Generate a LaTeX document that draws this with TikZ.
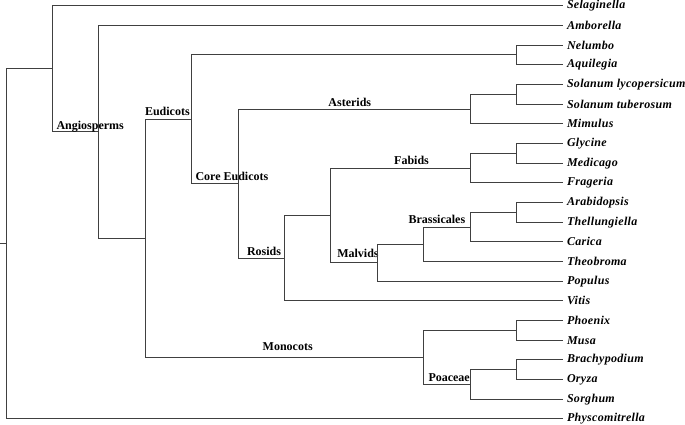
\documentclass[tikz,border=0pt]{standalone}
\usepackage{fontspec}
\setmainfont{Liberation Serif}
\newfontfamily\leaffont[LetterSpace=2.5]{Liberation Serif}
\usetikzlibrary{calc}

\tikzset{
  branch/.style={draw=black!75, line width=1pt},
  leaf/.style={anchor=west, inner xsep=4pt, inner ysep=1pt,
    font=\leaffont\fontsize{12}{14}\selectfont\bfseries\itshape},
  clade/.style={anchor=base west, inner sep=0pt,
    font=\fontsize{12}{14}\selectfont\bfseries},
}

\begin{document}
\begin{tikzpicture}[x=46.4pt, y=-19.68pt]
  \useasboundingbox (-6pt,5.7pt) rectangle (679pt,-418.3pt);

  % leaves, top to bottom
  \foreach \n/\t [count=\i from 0] in {sel/Selaginella, amb/Amborella,
      nel/Nelumbo, aqu/Aquilegia, sly/Solanum lycopersicum,
      stu/Solanum tuberosum, mim/Mimulus, gly/Glycine, med/Medicago,
      fra/Frageria, ara/Arabidopsis, the/Thellungiella, car/Carica,
      teo/Theobroma, pop/Populus, vit/Vitis, pho/Phoenix, mus/Musa,
      bra/Brachypodium, ory/Oryza, sor/Sorghum, phy/Physcomitrella}
    \node[leaf] (\n) at (12,\i) {\t};

  % internal nodes: (depth, mean of children)
  \coordinate (solanum) at (11,4.5);
  \coordinate (nelaqu)  at (11,2.5);
  \coordinate (asterid) at (10,5.25);
  \coordinate (glymed)  at (11,7.5);
  \coordinate (fabid)   at (10,8.25);
  \coordinate (arathe)  at (11,10.5);
  \coordinate (brassic) at (10,11.25);
  \coordinate (bratheo) at (9,12.125);
  \coordinate (malvid)  at (8,13.0625);
  \coordinate (fabmal)  at (7,10.656);
  \coordinate (rosid)   at (6,12.828);
  \coordinate (core)    at (5,9.039);
  \coordinate (eudicot) at (4,5.770);
  \coordinate (phomus)  at (11,16.5);
  \coordinate (braory)  at (11,18.5);
  \coordinate (poaceae) at (10,19.25);
  \coordinate (monocot) at (9,17.875);
  \coordinate (eumono)  at (3,11.822);
  \coordinate (angio)   at (2,6.411);
  \coordinate (vasc)    at (1,3.206);
  \coordinate (root)    at (0,12.103);
  \coordinate (base)    at ([xshift=-6pt]root);

  % backbone
  \draw[branch] (base) -- (root);
  \draw[branch] (root) |- (vasc) (root) |- (phy.west);
  \draw[branch] (vasc) |- (sel.west);
  \draw[branch] (vasc) |- node[clade, pos=.5, xshift=3.6pt, yshift=2pt] (angiolab) {Angiosperms} (angio);
  \draw[branch] (angio) |- (amb.west) (angio) |- (eumono);

  % eudicots
  \draw[branch] (eumono) |- node[clade, pos=.5, xshift=-.7pt, yshift=3.3pt] (eudlab) {Eudicots} (eudicot);
  \draw[branch] (eudicot) |- (nelaqu);
  \draw[branch] (nelaqu) |- (nel.west) (nelaqu) |- (aqu.west);
  \draw[branch] (eudicot) |- node[clade, pos=.5, xshift=3.4pt, yshift=2.6pt] (corelab) {Core Eudicots} (core);
  \draw[branch] (core) |- node[clade, anchor=base, pos=.741, yshift=3pt] (astlab) {Asterids} (asterid);
  \draw[branch] (asterid) |- (solanum) (asterid) |- (mim.west);
  \draw[branch] (solanum) |- (sly.west) (solanum) |- (stu.west);
  \draw[branch] (core) |- node[clade, pos=.5, xshift=8.5pt, yshift=3pt] (roslab) {Rosids} (rosid);
  \draw[branch] (rosid) |- (fabmal) (rosid) |- (vit.west);
  \draw[branch] (fabmal) |- node[clade, anchor=base, pos=.79, yshift=4pt] (fablab) {Fabids} (fabid);
  \draw[branch] (fabid) |- (glymed) (fabid) |- (fra.west);
  \draw[branch] (glymed) |- (gly.west) (glymed) |- (med.west);
  \draw[branch] (fabmal) |- node[clade, pos=.5, xshift=6pt, yshift=5.5pt] (mallab) {Malvids} (malvid);
  \draw[branch] (malvid) |- (bratheo) (malvid) |- (pop.west);
  \draw[branch] (bratheo) |- node[clade, pos=.5, xshift=-15.6pt, yshift=4pt] (bralab) {Brassicales} (brassic);
  \draw[branch] (bratheo) |- (teo.west);
  \draw[branch] (brassic) |- (arathe) (brassic) |- (car.west);
  \draw[branch] (arathe) |- (ara.west) (arathe) |- (the.west);

  % monocots
  \draw[branch] (eumono) |- node[clade, anchor=base, pos=.756, yshift=6.5pt] (monlab) {Monocots} (monocot);
  \draw[branch] (monocot) |- (phomus);
  \draw[branch] (phomus) |- (pho.west) (phomus) |- (mus.west);
  \draw[branch] (monocot) |- node[clade, pos=.5, xshift=4.4pt, yshift=3.5pt] (poalab) {Poaceae} (poaceae);
  \draw[branch] (poaceae) |- (braory) (poaceae) |- (sor.west);
  \draw[branch] (braory) |- (bra.west) (braory) |- (ory.west);
\end{tikzpicture}
\end{document}
